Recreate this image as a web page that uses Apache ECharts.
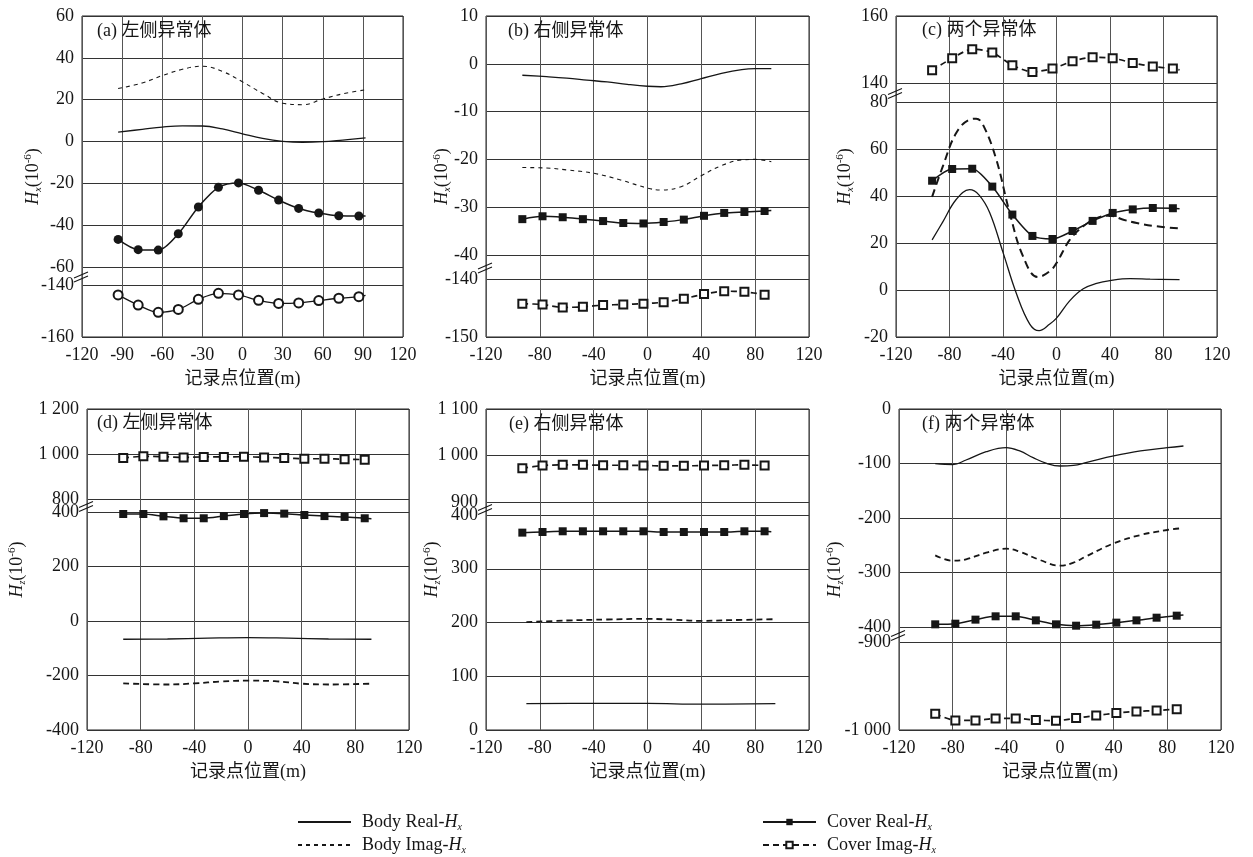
<!DOCTYPE html>
<html><head><meta charset="utf-8">
<script src="https://cdn.jsdelivr.net/npm/echarts@6/dist/echarts.min.js"></script>
<style>html,body{margin:0;padding:0;background:#fff}#c{width:1253px;height:857px}</style>
</head><body><div id="c"></div>
<script>
// ---------- DATA ----------
const xTicks30 = [-120, -90, -60, -30, 0, 30, 60, 90, 120];
const xTicks40 = [-120, -80, -40, 0, 40, 80, 120];
const coverX = [-93, -78, -63, -48, -33, -18, -3, 12, 27, 42, 57, 72, 87];
const coverEndX = 92;

// y tick labels of each axis segment (upper / lower part of the broken axis)
const yTicksAUp = [-60, -40, -20, 0, 20, 40, 60];
const yTicksALo = [-160, -140];
const yTicksBUp = [-40, -30, -20, -10, 0, 10];
const yTicksBLo = [-150, -140];
const yTicksCUp = [140, 160];
const yTicksCLo = [-20, 0, 20, 40, 60, 80];
const yTicksDUp = [800, 1000, 1200];
const yTicksDLo = [-400, -200, 0, 200, 400];
const yTicksEUp = [900, 1000, 1100];
const yTicksELo = [0, 100, 200, 300, 400];
const yTicksFUp = [-400, -300, -200, -100, 0];
const yTicksFLo = [-1000, -900];

// (a)
const aBodyX = [-93, -75, -60, -45, -30, -15, 0, 15, 30, 45, 60, 75, 92];
const aBodyReal = [4.5, 5.8, 6.9, 7.5, 7.4, 6.0, 3.7, 1.5, 0.1, -0.4, -0.1, 0.7, 1.7];
const aBodyImag = [25.3, 28, 31.5, 34.5, 36, 33.5, 28.5, 23, 18.3, 17.6, 20.3, 22.8, 24.7];
const aCoverReal = [-46.8, -51.7, -51.9, -44.1, -31.3, -21.9, -19.8, -23.3, -28.0, -32.0, -34.2, -35.5, -35.6];
const aCoverRealEnd = -35.6;
const aCoverImag = [-143.8, -147.7, -150.5, -149.4, -145.5, -143.2, -143.8, -145.9, -147.1, -146.9, -146.0, -145.1, -144.5];
const aCoverImagEnd = -144.0;
// (b)
const bBodyRealX = [-93, -75, -60, -45, -30, -15, 0, 10, 25, 40, 55, 70, 80, 92];
const bBodyReal = [-2.4, -2.7, -3.0, -3.4, -3.8, -4.3, -4.7, -4.8, -4.2, -3.1, -2.0, -1.2, -1.0, -1.0];
const bBodyImagX = [-93, -75, -60, -40, -20, 0, 10, 25, 40, 55, 70, 80, 92];
const bBodyImag = [-21.7, -21.8, -22.2, -22.9, -24.3, -26.0, -26.4, -25.7, -23.4, -21.3, -20.1, -20.0, -20.5];
const bCoverReal = [-32.5, -31.9, -32.1, -32.5, -32.9, -33.3, -33.4, -33.1, -32.6, -31.8, -31.2, -31.0, -30.8];
const bCoverRealEnd = -30.7;
const bCoverImag = [-144.25, -144.4, -144.9, -144.8, -144.5, -144.4, -144.25, -144.0, -143.4, -142.6, -142.1, -142.2, -142.7];
// (c)
const cBodyRealX = [-93, -85, -75, -65, -58, -50, -40, -30, -20, -13, -5, 0, 10, 20, 30, 40, 55, 70, 92];
const cBodyReal = [21.3, 29, 38.5, 42.7, 40.5, 33, 16, -1.5, -14.5, -17.3, -14.5, -12, -4.5, 0.5, 2.8, 4.0, 4.8, 4.6, 4.4];
const cBodyImagX = [-93, -85, -75, -65, -60, -55, -45, -35, -25, -14, -5, 0, 10, 20, 30, 40, 50, 60, 75, 92];
const cBodyImag = [39.6, 52.6, 66.8, 72.5, 72.9, 70.4, 55.5, 32.8, 14.3, 5.5, 8, 11.5, 21.4, 27.1, 30.6, 31.6, 29.9, 28.5, 27.1, 26.2];
const cCoverReal = [46.5, 51.5, 51.6, 44.0, 32.1, 23.0, 21.7, 25.1, 29.4, 32.8, 34.3, 34.9, 34.8];
const cCoverRealEnd = 34.6;
const cCoverImag = [143.8, 147.4, 150.1, 149.1, 145.3, 143.3, 144.3, 146.5, 147.7, 147.4, 146.0, 144.9, 144.3];
const cCoverImagEnd = 143.9;
// (d)
const dBodyRealX = [-93, -60, -30, 0, 30, 60, 92];
const dBodyReal = [-67, -66, -63, -61, -63, -66, -67];
const dBodyImagX = [-93, -60, -40, -20, 0, 20, 40, 60, 92];
const dBodyImag = [-229, -233, -229, -222, -219, -221, -230, -233, -230];
const dCoverReal = [392.7, 392.7, 384, 377, 377, 385, 392.7, 396, 394, 389, 385, 382, 377];
const dCoverRealEnd = 375.5;
const dCoverImag = [982, 989.6, 988, 985, 987, 987, 988, 985, 982, 979, 979, 977, 975];
// (e)
const eBodyRealX = [-90, -40, 0, 40, 95];
const eBodyReal = [49, 49.5, 49.5, 48, 49];
const eBodyImagX = [-90, -60, -30, 0, 20, 40, 60, 95];
const eBodyImag = [200.6, 203.7, 205.6, 206.8, 205, 203, 204.3, 206.2];
const eCoverReal = [367.2, 368.4, 369.7, 369.7, 369.7, 369.7, 369.7, 368.4, 368.4, 368.4, 368.4, 369.7, 369.7];
const eCoverRealEnd = 369;
const eCoverImag = [972.7, 978.4, 979.9, 979.9, 979, 979, 978.4, 977.7, 977.7, 978.4, 979, 979.9, 978.4];
// (f)
const fBodyRealX = [-93, -80, -70, -55, -40, -30, -20, -10, 0, 10, 20, 40, 60, 80, 92];
const fBodyReal = [-100.3, -102, -93.6, -78.3, -71, -77, -89.3, -99.7, -104.6, -103.4, -97.9, -86.2, -77, -71, -67.9];
const fBodyImagX = [-93, -80, -70, -55, -40, -30, -15, 0, 10, 20, 40, 60, 80, 90];
const fBodyImag = [-268.5, -278.3, -275.8, -263.6, -256.3, -261.8, -277, -287.5, -282, -269.7, -246.5, -231.2, -222, -219];
const fCoverReal = [-395.1, -393.9, -386.5, -380.4, -380.4, -387.8, -395.1, -397.6, -395.7, -392.0, -387.8, -382.9, -379.2];
const fCoverRealEnd = -378;
const fCoverImag = [-981.6, -989.1, -989.1, -986.8, -986.8, -988.7, -989.5, -986.5, -983.5, -980.8, -978.9, -977.8, -976.3];

const titles = ['(a) 左侧异常体', '(b) 右侧异常体', '(c) 两个异常体', '(d) 左侧异常体', '(e) 右侧异常体', '(f) 两个异常体'];
const xName = '记录点位置(m)';
const N_BR = 'Body Real-Hx', N_BI = 'Body Imag-Hx', N_CR = 'Cover Real-Hx', N_CI = 'Cover Imag-Hx';

// ---------- LAYOUT / STYLE ----------
const FONT = '"Liberation Serif","Noto Sans CJK SC",serif';
const INK = '#161616';
const layout = [
  {L: 82,  R: 403,  T: 16,  B: 337, UB: 267, LT: 285, nameGap: 39, tx: 97,  ty: 33},
  {L: 486, R: 809,  T: 16,  B: 337, UB: 255, LT: 279, nameGap: 34, tx: 508, ty: 33},
  {L: 896, R: 1217, T: 16,  B: 337, UB: 83,  LT: 102, nameGap: 41, tx: 922, ty: 32},
  {L: 87,  R: 409,  T: 409, B: 730, UB: 499, LT: 512, nameGap: 60, tx: 97,  ty: 425},
  {L: 486, R: 809,  T: 409, B: 730, UB: 502, LT: 515, nameGap: 44, tx: 509, ty: 426},
  {L: 899, R: 1221, T: 409, B: 730, UB: 627, LT: 642, nameGap: 54, tx: 922, ty: 426}
];
const legendPos = [
  {name: N_BR, left: 297, top: 813, hide: true},
  {name: N_BI, left: 297, top: 836, hide: true},
  {name: N_CR, left: 762, top: 813},
  {name: N_CI, left: 762, top: 836}
];
const sty = {
  bodyReal:   {symbol: 'none', smooth: 0.4, lineStyle: {color: INK, width: 1.3}},
  bodyImagT:  {symbol: 'none', smooth: 0.4, lineStyle: {color: INK, width: 1.1, type: [4, 4]}},
  bodyImagB:  {symbol: 'none', smooth: 0.4, lineStyle: {color: INK, width: 2, type: [8, 5]}},
  bodyImagM:  {symbol: 'none', smooth: 0.4, lineStyle: {color: INK, width: 1.8, type: [6, 4]}},
  coverReal:  {symbol: 'rect', symbolSize: 8, smooth: 0.25, itemStyle: {color: INK}, lineStyle: {color: INK, width: 1.5}},
  coverImag:  {symbol: 'emptyRect', symbolSize: 8, smooth: 0.25, itemStyle: {color: INK, borderWidth: 1.5}, lineStyle: {color: INK, width: 1.7, type: [6, 4]}},
  coverRealC: {symbol: 'circle', symbolSize: 9, smooth: 0.3, itemStyle: {color: INK}, lineStyle: {color: INK, width: 1.5}},
  coverImagC: {symbol: 'emptyCircle', symbolSize: 9, smooth: 0.3, itemStyle: {color: INK, borderWidth: 1.3}, lineStyle: {color: INK, width: 1.3}}
};

// ---------- PANEL DEFINITIONS (built from the arrays above) ----------
const panels = [
  {xt: xTicks30, up: yTicksAUp, lo: yTicksALo, comp: 'x', series: [
    {n: N_BR, x: aBodyX, y: aBodyReal, seg: 'up', s: 'bodyReal'},
    {n: N_BI, x: aBodyX, y: aBodyImag, seg: 'up', s: 'bodyImagT'},
    {n: N_CR, x: coverX, y: aCoverReal, end: aCoverRealEnd, seg: 'up', s: 'coverRealC'},
    {n: N_CI, x: coverX, y: aCoverImag, end: aCoverImagEnd, seg: 'lo', s: 'coverImagC'}]},
  {xt: xTicks40, up: yTicksBUp, lo: yTicksBLo, comp: 'x', series: [
    {n: N_BR, x: bBodyRealX, y: bBodyReal, seg: 'up', s: 'bodyReal'},
    {n: N_BI, x: bBodyImagX, y: bBodyImag, seg: 'up', s: 'bodyImagT'},
    {n: N_CR, x: coverX, y: bCoverReal, end: bCoverRealEnd, seg: 'up', s: 'coverReal'},
    {n: N_CI, x: coverX, y: bCoverImag, seg: 'lo', s: 'coverImag'}]},
  {xt: xTicks40, up: yTicksCUp, lo: yTicksCLo, comp: 'x', series: [
    {n: N_BR, x: cBodyRealX, y: cBodyReal, seg: 'lo', s: 'bodyReal'},
    {n: N_BI, x: cBodyImagX, y: cBodyImag, seg: 'lo', s: 'bodyImagB'},
    {n: N_CR, x: coverX, y: cCoverReal, end: cCoverRealEnd, seg: 'lo', s: 'coverReal'},
    {n: N_CI, x: coverX, y: cCoverImag, end: cCoverImagEnd, seg: 'up', s: 'coverImag'}]},
  {xt: xTicks40, up: yTicksDUp, lo: yTicksDLo, comp: 'z', series: [
    {n: N_BR, x: dBodyRealX, y: dBodyReal, seg: 'lo', s: 'bodyReal'},
    {n: N_BI, x: dBodyImagX, y: dBodyImag, seg: 'lo', s: 'bodyImagM'},
    {n: N_CR, x: coverX, y: dCoverReal, end: dCoverRealEnd, seg: 'lo', s: 'coverReal'},
    {n: N_CI, x: coverX, y: dCoverImag, seg: 'up', s: 'coverImag'}]},
  {xt: xTicks40, up: yTicksEUp, lo: yTicksELo, comp: 'z', series: [
    {n: N_BR, x: eBodyRealX, y: eBodyReal, seg: 'lo', s: 'bodyReal'},
    {n: N_BI, x: eBodyImagX, y: eBodyImag, seg: 'lo', s: 'bodyImagM'},
    {n: N_CR, x: coverX, y: eCoverReal, end: eCoverRealEnd, seg: 'lo', s: 'coverReal'},
    {n: N_CI, x: coverX, y: eCoverImag, seg: 'up', s: 'coverImag'}]},
  {xt: xTicks40, up: yTicksFUp, lo: yTicksFLo, comp: 'z', series: [
    {n: N_BR, x: fBodyRealX, y: fBodyReal, seg: 'up', s: 'bodyReal'},
    {n: N_BI, x: fBodyImagX, y: fBodyImag, seg: 'up', s: 'bodyImagM'},
    {n: N_CR, x: coverX, y: fCoverReal, end: fCoverRealEnd, seg: 'up', s: 'coverReal'},
    {n: N_CI, x: coverX, y: fCoverImag, seg: 'lo', s: 'coverImag'}]}
];

function fmtNum(v) {
  const neg = v < 0;
  let s = String(Math.abs(v));
  if (s.length > 3) s = s.slice(0, -3) + ' ' + s.slice(-3);
  return (neg ? '-' : '') + s;
}
const labelStyle = {fontSize: 18, fontFamily: FONT, color: INK};
const nameRich = {
  i: {fontSize: 18, fontStyle: 'italic', fontFamily: FONT, color: INK, lineHeight: 20},
  s: {fontSize: 10, fontStyle: 'italic', fontFamily: FONT, color: INK, lineHeight: 10, verticalAlign: 'bottom'},
  n: {fontSize: 18, fontFamily: FONT, color: INK, lineHeight: 20},
  p: {fontSize: 11, fontFamily: FONT, color: INK, lineHeight: 11, verticalAlign: 'top'}
};

const grid = [], xAxis = [], yAxis = [], series = [], graphic = [];
panels.forEach((p, i) => {
  const g = layout[i];
  const W = g.R - g.L;
  const gi = i * 3;
  const xMin = p.xt[0], xMax = p.xt[p.xt.length - 1], xInt = p.xt[1] - p.xt[0];
  grid.push({left: g.L, top: g.T, width: W, height: g.B - g.T, show: true, borderColor: '#222', borderWidth: 1, backgroundColor: 'transparent', outerBoundsMode: 'none'});
  grid.push({left: g.L, top: g.T, width: W, height: g.UB - g.T, outerBoundsMode: 'none'});
  grid.push({left: g.L, top: g.LT, width: W, height: g.B - g.LT, outerBoundsMode: 'none'});
  xAxis.push({gridIndex: gi, type: 'value', min: xMin, max: xMax, interval: xInt,
    axisLine: {show: false}, axisTick: {show: false},
    axisLabel: Object.assign({margin: 9, formatter: fmtNum}, labelStyle),
    splitLine: {show: true, lineStyle: {color: '#555', width: 1}},
    name: xName, nameLocation: 'middle', nameGap: 33, nameTextStyle: {fontSize: 18, fontFamily: FONT, color: INK}});
  xAxis.push({gridIndex: gi + 1, type: 'value', min: xMin, max: xMax, show: false});
  xAxis.push({gridIndex: gi + 2, type: 'value', min: xMin, max: xMax, show: false});
  yAxis.push({gridIndex: gi, type: 'value', min: 0, max: 1,
    axisLine: {show: false}, axisTick: {show: false}, axisLabel: {show: false}, splitLine: {show: false},
    name: '{i|H}{s|' + p.comp + '}{n|(10}{p|-6}{n|)}', nameLocation: 'middle', nameGap: g.nameGap,
    nameTextStyle: {rich: nameRich}});
  [p.up, p.lo].forEach((t, k) => {
    yAxis.push({gridIndex: gi + 1 + k, type: 'value', min: t[0], max: t[t.length - 1], interval: t[1] - t[0],
      axisLine: {show: false}, axisTick: {show: false},
      axisLabel: Object.assign({margin: 8, formatter: fmtNum, showMinLabel: true, showMaxLabel: true}, labelStyle),
      splitLine: {show: true, lineStyle: {color: '#333', width: 1}}});
  });
  // title
  graphic.push({type: 'text', left: g.tx, top: g.ty - 11, z: 10,
    style: {text: titles[i], font: '18px ' + FONT, fill: INK}});
  // axis-break marks on the left border
  const c = (g.UB + g.LT) / 2;
  [[2, -4], [6, 0]].forEach(d => {
    graphic.push({type: 'line', z: 10, shape: {x1: g.L - 8, y1: c + d[0], x2: g.L + 6, y2: c + d[1]},
      style: {stroke: INK, lineWidth: 1.1}});
  });
});

// series (panel b first so that the legend picks its styles)
const order = [1, 0, 2, 3, 4, 5];
order.forEach(i => {
  const p = panels[i];
  p.series.forEach(sd => {
    const st = sty[sd.s];
    const data = sd.x.map((x, k) => [x, sd.y[k]]);
    if (sd.end !== undefined) data.push({value: [coverEndX, sd.end], symbol: 'none'});
    series.push(Object.assign({
      type: 'line', name: sd.n, color: INK,
      xAxisIndex: i * 3 + (sd.seg === 'up' ? 1 : 2),
      yAxisIndex: i * 3 + (sd.seg === 'up' ? 1 : 2),
      data: data, animation: false, silent: true, z: 3
    }, JSON.parse(JSON.stringify(st))));
  });
});

const legendRich = {
  n: {fontSize: 18, fontFamily: FONT, color: INK, lineHeight: 20, padding: [0, 0, 0, 6]},
  i: {fontSize: 18, fontFamily: FONT, fontStyle: 'italic', color: INK, lineHeight: 20},
  s: {fontSize: 10, fontFamily: FONT, fontStyle: 'italic', color: INK, lineHeight: 10, verticalAlign: 'bottom'}
};
const legendFmt = name => '{n|' + name.replace(/Hx$/, '') + '}{i|H}{s|x}';
const legend = legendPos.map(lp => ({
  orient: 'horizontal', left: lp.left, top: lp.top, itemWidth: 53, itemHeight: 8, padding: 0,
  textStyle: {rich: legendRich}, formatter: legendFmt, selectedMode: false,
  data: [lp.hide
    ? {name: lp.name, itemStyle: {color: 'rgba(0,0,0,0)', borderColor: 'rgba(0,0,0,0)', borderWidth: 0}}
    : {name: lp.name}]
}));

const option = {
  animation: false,
  backgroundColor: '#fff',
  grid, xAxis, yAxis, series, graphic, legend
};
const chart = echarts.init(document.getElementById('c'), null, {renderer: 'canvas'});
chart.setOption(option);
</script>
</body></html>
